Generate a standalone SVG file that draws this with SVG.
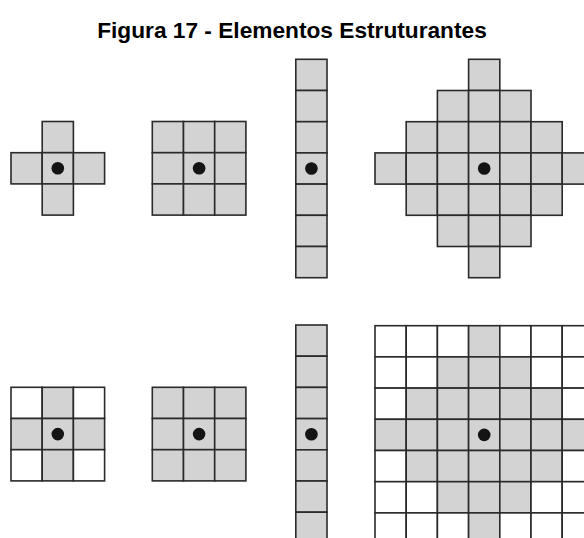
<svg xmlns="http://www.w3.org/2000/svg" width="584" height="538" viewBox="0 0 584 538">
<style>
.g{fill:#d3d3d3;stroke:#2a2a2a;stroke-width:1.6}
.w{fill:#ffffff;stroke:#2a2a2a;stroke-width:1.6}
.d{fill:#141414}
.t{font-family:"Liberation Sans",Arial,sans-serif;font-weight:bold;font-size:22.7px;fill:#000}
</style>
<rect width="584" height="538" fill="#ffffff"/>
<text class="t" x="292" y="38" text-anchor="middle">Figura 17 - Elementos Estruturantes</text>

<g id="ee-cruz">
<rect class="g" x="42.2" y="121.5" width="31.2" height="31.2"/>
<rect class="g" x="11" y="152.7" width="31.2" height="31.2"/>
<rect class="g" x="42.2" y="152.7" width="31.2" height="31.2"/>
<rect class="g" x="73.4" y="152.7" width="31.2" height="31.2"/>
<rect class="g" x="42.2" y="183.9" width="31.2" height="31.2"/>
<circle class="d" cx="57.8" cy="168.3" r="6.3"/>
</g>

<g id="ee-quadrado">
<rect class="g" x="152.3" y="121.5" width="31.2" height="31.2"/>
<rect class="g" x="183.5" y="121.5" width="31.2" height="31.2"/>
<rect class="g" x="214.7" y="121.5" width="31.2" height="31.2"/>
<rect class="g" x="152.3" y="152.7" width="31.2" height="31.2"/>
<rect class="g" x="183.5" y="152.7" width="31.2" height="31.2"/>
<rect class="g" x="214.7" y="152.7" width="31.2" height="31.2"/>
<rect class="g" x="152.3" y="183.9" width="31.2" height="31.2"/>
<rect class="g" x="183.5" y="183.9" width="31.2" height="31.2"/>
<rect class="g" x="214.7" y="183.9" width="31.2" height="31.2"/>
<circle class="d" cx="199.1" cy="168.3" r="6.3"/>
</g>

<g id="ee-linha">
<rect class="g" x="295.8" y="59.3" width="31.2" height="31.2"/>
<rect class="g" x="295.8" y="90.5" width="31.2" height="31.2"/>
<rect class="g" x="295.8" y="121.7" width="31.2" height="31.2"/>
<rect class="g" x="295.8" y="152.9" width="31.2" height="31.2"/>
<rect class="g" x="295.8" y="184.1" width="31.2" height="31.2"/>
<rect class="g" x="295.8" y="215.3" width="31.2" height="31.2"/>
<rect class="g" x="295.8" y="246.5" width="31.2" height="31.2"/>
<circle class="d" cx="311.4" cy="168.5" r="6.3"/>
</g>

<g id="ee-diamante">
<rect class="g" x="468.6" y="59.3" width="31.2" height="31.2"/>
<rect class="g" x="437.4" y="90.5" width="31.2" height="31.2"/>
<rect class="g" x="468.6" y="90.5" width="31.2" height="31.2"/>
<rect class="g" x="499.8" y="90.5" width="31.2" height="31.2"/>
<rect class="g" x="406.2" y="121.7" width="31.2" height="31.2"/>
<rect class="g" x="437.4" y="121.7" width="31.2" height="31.2"/>
<rect class="g" x="468.6" y="121.7" width="31.2" height="31.2"/>
<rect class="g" x="499.8" y="121.7" width="31.2" height="31.2"/>
<rect class="g" x="531" y="121.7" width="31.2" height="31.2"/>
<rect class="g" x="375" y="152.9" width="31.2" height="31.2"/>
<rect class="g" x="406.2" y="152.9" width="31.2" height="31.2"/>
<rect class="g" x="437.4" y="152.9" width="31.2" height="31.2"/>
<rect class="g" x="468.6" y="152.9" width="31.2" height="31.2"/>
<rect class="g" x="499.8" y="152.9" width="31.2" height="31.2"/>
<rect class="g" x="531" y="152.9" width="31.2" height="31.2"/>
<rect class="g" x="562.2" y="152.9" width="31.2" height="31.2"/>
<rect class="g" x="406.2" y="184.1" width="31.2" height="31.2"/>
<rect class="g" x="437.4" y="184.1" width="31.2" height="31.2"/>
<rect class="g" x="468.6" y="184.1" width="31.2" height="31.2"/>
<rect class="g" x="499.8" y="184.1" width="31.2" height="31.2"/>
<rect class="g" x="531" y="184.1" width="31.2" height="31.2"/>
<rect class="g" x="437.4" y="215.3" width="31.2" height="31.2"/>
<rect class="g" x="468.6" y="215.3" width="31.2" height="31.2"/>
<rect class="g" x="499.8" y="215.3" width="31.2" height="31.2"/>
<rect class="g" x="468.6" y="246.5" width="31.2" height="31.2"/>
<circle class="d" cx="484.2" cy="168.5" r="6.3"/>
</g>

<g id="ee-cruz-grade">
<rect class="w" x="11" y="387.3" width="31.2" height="31.2"/>
<rect class="g" x="42.2" y="387.3" width="31.2" height="31.2"/>
<rect class="w" x="73.4" y="387.3" width="31.2" height="31.2"/>
<rect class="g" x="11" y="418.5" width="31.2" height="31.2"/>
<rect class="g" x="42.2" y="418.5" width="31.2" height="31.2"/>
<rect class="g" x="73.4" y="418.5" width="31.2" height="31.2"/>
<rect class="w" x="11" y="449.7" width="31.2" height="31.2"/>
<rect class="g" x="42.2" y="449.7" width="31.2" height="31.2"/>
<rect class="w" x="73.4" y="449.7" width="31.2" height="31.2"/>
<circle class="d" cx="57.8" cy="434.1" r="6.3"/>
</g>

<g id="ee-quadrado-grade">
<rect class="g" x="152.3" y="387.3" width="31.2" height="31.2"/>
<rect class="g" x="183.5" y="387.3" width="31.2" height="31.2"/>
<rect class="g" x="214.7" y="387.3" width="31.2" height="31.2"/>
<rect class="g" x="152.3" y="418.5" width="31.2" height="31.2"/>
<rect class="g" x="183.5" y="418.5" width="31.2" height="31.2"/>
<rect class="g" x="214.7" y="418.5" width="31.2" height="31.2"/>
<rect class="g" x="152.3" y="449.7" width="31.2" height="31.2"/>
<rect class="g" x="183.5" y="449.7" width="31.2" height="31.2"/>
<rect class="g" x="214.7" y="449.7" width="31.2" height="31.2"/>
<circle class="d" cx="199.1" cy="434.1" r="6.3"/>
</g>

<g id="ee-linha-grade">
<rect class="g" x="295.8" y="325" width="31.2" height="31.2"/>
<rect class="g" x="295.8" y="356.2" width="31.2" height="31.2"/>
<rect class="g" x="295.8" y="387.4" width="31.2" height="31.2"/>
<rect class="g" x="295.8" y="418.6" width="31.2" height="31.2"/>
<rect class="g" x="295.8" y="449.8" width="31.2" height="31.2"/>
<rect class="g" x="295.8" y="481" width="31.2" height="31.2"/>
<rect class="g" x="295.8" y="512.2" width="31.2" height="31.2"/>
<circle class="d" cx="311.4" cy="434.2" r="6.3"/>
</g>

<g id="ee-diamante-grade">
<rect class="w" x="375" y="325.7" width="31.2" height="31.2"/>
<rect class="w" x="406.2" y="325.7" width="31.2" height="31.2"/>
<rect class="w" x="437.4" y="325.7" width="31.2" height="31.2"/>
<rect class="g" x="468.6" y="325.7" width="31.2" height="31.2"/>
<rect class="w" x="499.8" y="325.7" width="31.2" height="31.2"/>
<rect class="w" x="531" y="325.7" width="31.2" height="31.2"/>
<rect class="w" x="562.2" y="325.7" width="31.2" height="31.2"/>
<rect class="w" x="375" y="356.9" width="31.2" height="31.2"/>
<rect class="w" x="406.2" y="356.9" width="31.2" height="31.2"/>
<rect class="g" x="437.4" y="356.9" width="31.2" height="31.2"/>
<rect class="g" x="468.6" y="356.9" width="31.2" height="31.2"/>
<rect class="g" x="499.8" y="356.9" width="31.2" height="31.2"/>
<rect class="w" x="531" y="356.9" width="31.2" height="31.2"/>
<rect class="w" x="562.2" y="356.9" width="31.2" height="31.2"/>
<rect class="w" x="375" y="388.1" width="31.2" height="31.2"/>
<rect class="g" x="406.2" y="388.1" width="31.2" height="31.2"/>
<rect class="g" x="437.4" y="388.1" width="31.2" height="31.2"/>
<rect class="g" x="468.6" y="388.1" width="31.2" height="31.2"/>
<rect class="g" x="499.8" y="388.1" width="31.2" height="31.2"/>
<rect class="g" x="531" y="388.1" width="31.2" height="31.2"/>
<rect class="w" x="562.2" y="388.1" width="31.2" height="31.2"/>
<rect class="g" x="375" y="419.3" width="31.2" height="31.2"/>
<rect class="g" x="406.2" y="419.3" width="31.2" height="31.2"/>
<rect class="g" x="437.4" y="419.3" width="31.2" height="31.2"/>
<rect class="g" x="468.6" y="419.3" width="31.2" height="31.2"/>
<rect class="g" x="499.8" y="419.3" width="31.2" height="31.2"/>
<rect class="g" x="531" y="419.3" width="31.2" height="31.2"/>
<rect class="g" x="562.2" y="419.3" width="31.2" height="31.2"/>
<rect class="w" x="375" y="450.5" width="31.2" height="31.2"/>
<rect class="g" x="406.2" y="450.5" width="31.2" height="31.2"/>
<rect class="g" x="437.4" y="450.5" width="31.2" height="31.2"/>
<rect class="g" x="468.6" y="450.5" width="31.2" height="31.2"/>
<rect class="g" x="499.8" y="450.5" width="31.2" height="31.2"/>
<rect class="g" x="531" y="450.5" width="31.2" height="31.2"/>
<rect class="w" x="562.2" y="450.5" width="31.2" height="31.2"/>
<rect class="w" x="375" y="481.7" width="31.2" height="31.2"/>
<rect class="w" x="406.2" y="481.7" width="31.2" height="31.2"/>
<rect class="g" x="437.4" y="481.7" width="31.2" height="31.2"/>
<rect class="g" x="468.6" y="481.7" width="31.2" height="31.2"/>
<rect class="g" x="499.8" y="481.7" width="31.2" height="31.2"/>
<rect class="w" x="531" y="481.7" width="31.2" height="31.2"/>
<rect class="w" x="562.2" y="481.7" width="31.2" height="31.2"/>
<rect class="w" x="375" y="512.9" width="31.2" height="31.2"/>
<rect class="w" x="406.2" y="512.9" width="31.2" height="31.2"/>
<rect class="w" x="437.4" y="512.9" width="31.2" height="31.2"/>
<rect class="g" x="468.6" y="512.9" width="31.2" height="31.2"/>
<rect class="w" x="499.8" y="512.9" width="31.2" height="31.2"/>
<rect class="w" x="531" y="512.9" width="31.2" height="31.2"/>
<rect class="w" x="562.2" y="512.9" width="31.2" height="31.2"/>
<circle class="d" cx="484.2" cy="434.9" r="6.3"/>
</g>

<g id="connectors"></g>
</svg>
